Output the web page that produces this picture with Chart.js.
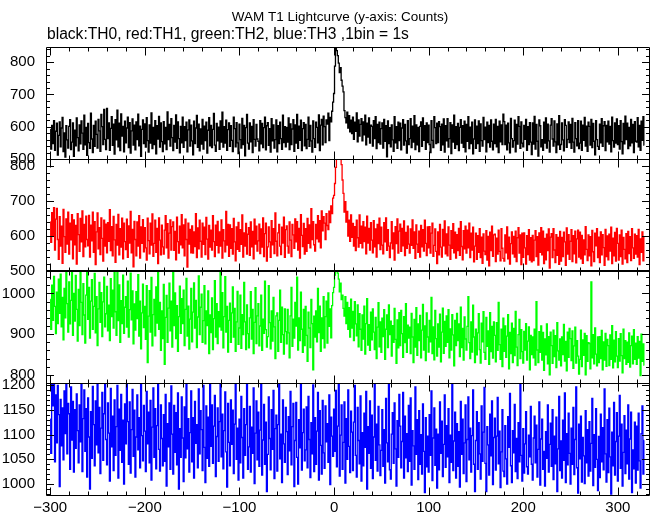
<!DOCTYPE html>
<html>
<head>
<meta charset="utf-8">
<script src="https://cdn.jsdelivr.net/npm/chart.js@4.4.1/dist/chart.umd.min.js"></script>
<style>
  html, body { margin: 0; padding: 0; background: #ffffff; }
  #wrap { width: 652px; height: 515px; }
</style>
</head>
<body>
<div id="wrap"><canvas id="lc" width="652" height="515"></canvas></div>
<script>
// WAM T1 lightcurve, 4 energy channels, 1 s bins starting at t = -300 s

const TITLE = 'WAM T1 Lightcurve (y-axis: Counts)'
const SUBTITLE = 'black:TH0, red:TH1, green:TH2, blue:TH3 ,1bin = 1s'
const T_START = -300
const BIN_SEC = 1
const X_TICKS = [-300, -200, -100, 0, 100, 200, 300]

// counts per bin (10 bins per row)
const TH0 = [
  592,531,604,548,619,527,586,611,512,573,
  615,538,596,629,523,581,506,603,559,534,
  601,622,529,552,612,508,589,541,627,566,
  525,606,547,618,580,530,636,544,598,511,
  610,551,533,642,562,520,604,539,617,576,
  534,623,587,524,638,600,545,654,561,529,
  657,563,612,527,595,631,542,608,515,622,
  559,651,538,611,526,640,571,601,522,617,
  550,596,630,535,613,518,587,624,543,605,
  528,615,560,639,541,602,508,592,621,548,
  609,537,628,557,521,606,549,643,532,598,
  545,619,516,603,562,632,537,612,554,523,
  616,547,598,529,646,560,607,540,625,566,
  526,604,552,637,533,615,563,519,601,550,
  630,536,600,557,614,522,590,621,540,605,
  556,513,617,548,596,635,536,608,525,593,
  546,623,531,602,557,614,518,589,628,541,
  604,535,592,641,543,524,610,556,599,530,
  618,552,645,537,600,549,620,527,591,612,
  539,603,558,523,630,594,538,613,550,517,
  608,560,534,626,545,604,510,597,638,549,
  531,612,553,601,520,622,561,540,607,562,
  555,525,619,547,610,535,597,630,528,603,
  613,542,594,521,625,556,606,534,560,621,
  522,603,548,614,563,530,636,551,600,538,
  598,552,627,529,609,545,593,622,524,606,
  549,638,533,602,558,620,526,594,613,541,
  607,532,561,630,539,604,556,521,618,563,
  536,614,598,550,637,526,605,623,544,633,
  600,551,621,608,642,557,629,615,648,676,
  703,788,844,836,820,797,768,783,744,726,
  708,650,628,612,645,596,634,584,620,579,
  630,561,614,586,643,553,621,571,607,625,
  556,615,575,636,544,611,568,627,549,605,
  601,540,619,563,631,532,607,551,614,546,
  594,612,534,623,555,603,507,618,548,597,
  538,606,559,524,631,550,600,533,614,557,
  611,528,596,622,543,607,556,518,619,545,
  563,625,535,602,552,634,529,606,544,598,
  523,601,615,539,627,558,603,530,612,551,
  605,545,520,619,558,535,631,597,548,611,
  551,616,600,527,608,544,624,521,603,556,
  625,537,563,613,517,606,552,636,533,600,
  545,610,526,598,622,549,603,536,617,522,
  607,555,631,532,599,548,614,516,562,621,
  533,602,548,618,524,609,557,540,629,560,
  599,522,614,551,604,537,621,555,528,608,
  548,623,538,601,520,617,553,606,545,639,
  616,545,605,528,611,550,519,626,563,537,
  557,620,522,607,546,631,601,533,615,549,
  538,604,561,623,527,600,545,613,552,514,
  612,546,632,531,607,555,509,621,603,538,
  560,527,614,549,627,534,608,556,521,605,
  625,562,540,618,553,520,609,544,634,530,
  545,612,559,525,622,604,536,561,615,551,
  607,533,626,552,521,613,563,541,619,532,
  549,617,527,605,558,629,540,602,524,614,
  601,543,623,535,610,555,513,619,560,539,
  530,608,550,625,539,603,616,526,604,553,
  617,546,601,522,630,557,537,612,549,624,
  545,603,531,619,554,516,610,547,633,560,
  611,532,598,541,623,550,607,520,616,555,
  552,628,538,604,527,617,558,631,543
]

const TH1 = [
  640,582,667,601,681,560,648,679,590,533,
  655,571,628,522,676,598,553,649,577,668,
  548,637,589,661,535,646,575,630,520,664,
  604,556,650,583,672,541,633,569,657,590,
  572,659,540,631,586,668,553,641,518,612,
  666,563,624,547,652,593,528,645,571,634,
  552,638,585,675,558,627,543,656,589,525,
  633,574,662,546,621,568,651,535,637,584,
  561,648,539,629,580,670,552,619,512,642,
  590,543,640,571,658,537,626,579,647,555,
  624,566,531,651,587,549,637,574,663,542,
  579,645,553,622,521,652,588,546,631,569,
  548,617,658,566,635,537,608,646,560,627,
  640,559,613,532,654,584,551,628,575,661,
  566,632,543,648,590,511,637,577,619,552,
  629,551,612,570,664,538,623,563,645,585,
  540,637,576,625,547,653,591,534,630,568,
  617,560,658,584,541,631,573,642,552,612,
  571,646,537,618,586,555,670,574,633,542,
  632,565,621,548,650,583,529,626,562,639,
  556,618,576,660,540,609,571,636,548,605,
  624,545,640,569,613,535,648,577,628,557,
  586,634,550,620,568,652,541,607,637,528,
  569,626,583,539,644,575,621,550,666,585,
  543,609,633,571,547,625,580,654,539,618,
  629,571,551,640,588,541,633,603,565,649,
  583,641,560,622,537,661,602,570,636,548,
  621,556,650,579,632,566,678,590,641,575,
  557,633,592,658,583,644,566,672,615,655,
  637,590,664,630,618,671,638,686,664,708,
  716,750,796,832,842,837,822,839,804,760,
  722,668,698,640,670,600,645,585,660,596,
  636,571,627,558,645,595,568,660,579,628,
  566,641,584,625,549,657,580,622,560,638,
  588,552,644,569,620,540,633,578,651,561,
  625,574,549,638,583,652,559,618,571,538,
  580,641,563,609,531,627,578,649,551,614,
  634,556,622,572,643,544,610,565,628,577,
  551,620,573,646,565,612,536,632,577,553,
  614,540,630,569,618,557,645,579,544,626,
  566,627,551,608,637,542,573,620,556,521,
  612,546,633,568,540,619,572,643,549,606,
  543,626,574,533,615,565,635,552,611,537,
  604,558,622,545,641,570,532,615,563,628,
  551,617,566,637,538,608,560,625,526,571,
  608,533,601,553,621,538,597,522,606,557,
  547,615,531,599,515,611,558,628,542,603,
  605,527,594,548,617,556,529,621,565,536,
  528,603,552,626,535,597,520,578,612,549,
  599,540,614,527,595,624,551,603,518,608,
  539,609,566,520,601,547,618,531,595,526,
  602,530,588,615,541,598,517,609,553,624,
  546,614,521,593,532,605,558,620,508,597,
  607,538,621,560,524,604,545,596,519,613,
  528,596,541,611,583,516,623,548,604,533,
  585,618,527,601,549,614,523,592,617,540,
  611,535,602,522,589,546,627,562,530,603,
  543,598,515,616,555,527,608,572,621,538,
  597,524,612,546,604,567,516,619,541,600,
  532,605,557,625,521,594,543,610,528,622,
  579,531,603,541,617,520,596,562,535,607,
  524,613,550,598,530,621,566,536,605,548,
  601,540,619,518,592,553,612,529,598
]

const TH2 = [
  985,912,1020,934,1042,968,901,1003,926,1035,
  951,1047,918,990,886,1012,940,1058,975,905,
  1028,925,983,1060,897,1000,932,1044,961,883,
  1010,921,1052,978,899,1024,947,878,996,1056,
  936,1015,890,981,1034,912,968,1049,903,992,
  872,962,1027,929,1002,894,979,1040,918,950,
  1017,908,971,884,1036,943,1008,915,1057,955,
  897,1060,933,1021,880,982,926,1045,902,966,
  992,917,1030,893,960,1050,935,1006,876,974,
  910,1004,938,1046,895,981,864,952,1023,916,
  968,887,1019,830,944,1007,905,1039,871,948,
  985,896,1016,927,1053,912,978,860,957,889,
  1022,826,941,995,880,964,1025,908,981,868,
  1055,921,1001,889,970,858,943,1018,902,987,
  926,1008,872,961,1037,895,969,863,937,1012,
  881,954,1026,915,983,867,942,1043,899,966,
  998,880,933,1019,876,957,921,1006,852,947,
  904,989,862,938,1031,893,975,877,955,918,
  1057,910,1002,866,943,1041,905,968,856,934,
  976,880,952,1016,893,963,858,930,1005,875,
  915,996,865,948,899,1027,930,862,972,901,
  866,940,1004,888,961,852,929,1014,877,945,
  975,871,920,996,860,937,902,1030,911,868,
  894,1019,928,864,957,883,990,918,840,945,
  952,858,934,1008,880,966,899,851,962,906,
  876,961,903,842,945,1015,870,937,890,978,
  920,1040,861,940,884,1003,912,855,961,872,
  968,897,833,954,915,867,985,926,812,944,
  893,957,881,1012,904,969,858,940,889,992,
  866,943,981,878,1001,919,962,891,970,1002,
  1015,1045,1060,1060,1050,1035,1004,1025,985,996,
  963,944,992,926,978,912,965,893,986,915,
  956,884,980,925,896,972,869,950,912,860,
  947,888,969,851,926,987,873,923,860,954,
  886,962,905,862,941,840,917,977,869,930,
  855,939,894,960,838,912,947,867,972,899,
  932,846,921,880,963,887,828,935,866,953,
  872,958,901,843,943,879,975,855,922,890,
  917,852,951,893,830,936,868,965,848,925,
  884,946,842,910,973,861,920,835,952,893,
  856,934,881,990,852,918,837,958,889,846,
  925,868,949,832,905,964,853,931,870,945,
  880,960,842,913,861,948,898,822,934,872,
  951,884,925,845,966,867,914,836,942,888,
  861,919,992,879,840,930,856,971,893,830,
  912,849,903,950,862,829,927,881,955,855,
  838,941,870,908,826,953,857,919,841,930,
  897,832,928,860,978,874,838,912,820,939,
  858,920,843,895,948,815,904,852,927,830,
  914,847,956,868,823,899,936,840,911,857,
  829,907,861,926,836,883,918,812,897,850,
  893,842,912,824,980,861,830,906,855,920,
  836,904,811,888,849,925,827,894,800,905,
  872,828,910,845,896,818,928,859,836,888,
  822,893,850,924,834,882,810,905,843,914,
  889,835,908,816,871,917,829,884,846,802,
  838,910,820,886,848,902,800,896,833,879,
  877,815,1028,842,899,827,915,851,822,893,
  830,894,840,909,812,881,836,902,821,887,
  872,823,898,838,921,817,885,832,906,846,
  818,889,834,901,847,805,912,840,884,826,
  880,831,903,819,872,895,827,911,838,878,
  826,894,841,882,798,900,833,876,824
]

const TH3 = [
  1131,1062,1210,1158,1215,1045,1180,1083,1199,1140,
  995,1171,1077,1154,1049,1188,1102,1212,1061,1163,
  1142,1030,1196,1089,1167,1024,1150,1072,1182,1108,
  1043,1160,1085,1201,1025,1132,1190,1066,1152,1014,
  1174,1095,990,1146,1052,1197,1120,1037,1168,1079,
  1203,1063,1155,1021,1113,1185,1048,1142,1208,1090,
  1039,1164,1103,1006,1193,1075,1137,1027,1170,1058,
  1116,1199,1012,1151,1068,1181,1044,1129,1000,1162,
  1081,1204,1126,1040,1166,1022,1110,1191,1056,1149,
  1014,1095,1180,1069,1134,1033,1206,1098,1047,1159,
  1107,1025,1187,1081,1145,1043,1169,1008,1115,1194,
  1054,1152,1031,1118,1210,1070,1026,1160,1092,1037,
  1140,1046,1181,996,1122,1075,1164,1030,1198,1101,
  1020,1159,1064,1144,1039,1184,990,1112,1054,1176,
  1093,1005,1156,1053,1207,1071,1132,1024,1104,1188,
  1045,1134,1012,1167,1082,1120,1033,1192,1061,1148,
  1110,1027,1199,1074,1003,1158,1052,1135,1036,1209,
  1076,1160,1042,1117,1179,1015,1096,1154,1046,1126,
  1206,1055,1141,1031,1108,1186,1065,994,1163,1084,
  1037,1170,1080,1149,1021,1121,1203,1050,1113,1008,
  1131,1043,1177,1094,1012,1152,1058,1120,1210,1030,
  1075,1157,1024,1115,1062,1194,1001,1103,1168,1049,
  1145,1036,1109,1202,1018,1089,1161,1040,1125,985,
  1060,1176,1092,1029,1150,1070,1189,1011,1112,1139,
  1026,1120,1209,1051,1101,1003,1170,1081,1044,1155,
  1106,1019,1136,1067,1187,1039,1116,1163,995,1088,
  1165,1054,1000,1130,1073,1210,1028,1104,1151,1047,
  1069,1156,1033,1177,1090,1013,1124,1061,1200,1025,
  1134,1040,1107,1185,1008,1148,1078,1020,1169,1063,
  1032,1158,1085,1122,1044,1180,999,1135,1097,1056,
  1151,1066,1189,1035,1117,1206,1016,1099,1160,1030,
  1084,1166,1002,1132,1050,1190,1076,1023,1147,1105,
  1027,1125,1199,1058,1014,1155,1088,1041,1178,1006,
  1104,1037,1143,1074,1187,990,1116,1062,1168,1032,
  1139,1011,1095,1205,1048,1121,1026,1157,1079,1017,
  1068,1150,1036,1110,1002,1173,1083,1045,1210,1029,
  1010,1101,1144,1042,1164,1071,996,1128,1054,1181,
  1117,1033,1086,1185,1012,1137,1053,1102,1025,1159,
  1046,1174,998,1108,1077,1030,1196,1060,1130,1009,
  1148,1040,1100,1020,1162,1066,983,1134,1035,1097,
  1024,1140,1058,1188,1007,1093,1154,1038,1111,992,
  1101,1029,1166,1062,1127,1015,1080,1180,1034,1118,
  1055,1152,1003,1099,1044,1204,1027,1087,1145,1012,
  1122,1036,1106,994,1167,1060,1131,1021,1083,1160,
  1005,1090,1176,1049,1113,1024,1098,1190,1040,985,
  1088,1146,1030,1124,1061,1010,1158,1046,1105,1195,
  1042,985,1116,1079,1018,1141,1057,1168,999,1094,
  1133,1028,1097,1175,1041,1107,993,1065,1150,1026,
  1015,1118,1051,1000,1136,1074,1183,1037,1003,1108,
  1063,1161,1025,1092,1011,1124,1045,1201,1058,1006,
  1112,1022,1081,1146,1035,1020,1099,1055,1157,1040,
  1008,1093,1137,1043,1119,1014,1070,1166,998,1091,
  1131,1030,1066,996,1106,1052,1160,1024,1080,1123,
  1036,1150,1009,1097,1041,1135,985,1071,1177,1027,
  1087,1012,1129,1048,1184,1003,1102,1039,1143,1062,
  1000,1113,1040,1155,1019,1090,1196,1033,982,1121,
  1051,1137,1004,1094,1057,1001,1148,1043,1110,1016,
  1126,1026,1082,1173,997,1100,1034,1152,1050,987,
  1096,1013,1141,1045,1114,1029,1192,1061,1004,1130,
  1023,1153,1055,980,1105,1037,1165,1018,1086,1144,
  1006,1097,1179,1032,1121,996,1064,1138,1021,1109,
  1041,1160,1010,1091,1145,983,1069,1031,1125,1002,
  1117,1028,1143,1047,992,1102,1158,1020,1088
]

// one panel per channel, top to bottom
const PANELS = [
  { id: 'y0', label: 'TH0', values: TH0, color: '#000000', min: 500, max: 847,  step: 100, minor: 20 },
  { id: 'y1', label: 'TH1', values: TH1, color: '#ff0000', min: 500, max: 820,  step: 100, minor: 20 },
  { id: 'y2', label: 'TH2', values: TH2, color: '#00ff00', min: 780, max: 1055, step: 100, minor: 20 },
  { id: 'y3', label: 'TH3', values: TH3, color: '#0000ff', min: 978, max: 1204, step: 50,  minor: 10 },
]

const FAMILY = '"Liberation Sans", Arial, Helvetica, sans-serif'
const FONT = { family: FAMILY, size: 15 }

const fmt = v => (v < 0 ? '\u2212' + Math.abs(v) : String(v))

// ── Frame + inward ticks (IDL style) ─────────────────────────────────────────

const framePlugin = {
  id: 'frame',
  afterDatasetsDraw(chart) {
    const { ctx, chartArea: a, scales } = chart
    const xs = scales.x
    ctx.save()
    ctx.strokeStyle = '#000'
    ctx.lineWidth = 1
    ctx.beginPath()
    for (const p of PANELS) {
      const s = scales[p.id]
      const top = Math.round(s.top) + 0.5
      const bot = Math.round(s.bottom) + 0.5
      ctx.rect(Math.round(a.left) + 0.5, top, Math.round(a.right - a.left) - 1, bot - top)
      // x ticks, top and bottom of each panel
      for (let t = -300; t <= xs.max; t += 20) {
        const x = Math.round(xs.getPixelForValue(t)) + 0.5
        const len = t % 100 === 0 ? 8 : 4
        ctx.moveTo(x, top); ctx.lineTo(x, top + len)
        ctx.moveTo(x, bot); ctx.lineTo(x, bot - len)
      }
      // y ticks, left and right
      const first = Math.ceil(p.min / p.minor) * p.minor
      for (let v = first; v <= p.max; v += p.minor) {
        const y = Math.round(s.getPixelForValue(v)) + 0.5
        const len = v % p.step === 0 ? 8 : 4
        ctx.moveTo(a.left, y); ctx.lineTo(a.left + len, y)
        ctx.moveTo(a.right, y); ctx.lineTo(a.right - len, y)
      }
    }
    ctx.stroke()
    // heavier rule between the TH1 and TH2 panels
    const yb = Math.round(scales.y1.bottom)
    ctx.fillStyle = '#000'
    ctx.fillRect(a.left, yb - 1, a.right - a.left, 2)
    ctx.restore()
  },
  afterDraw(chart) {
    const { ctx } = chart
    ctx.save()
    ctx.fillStyle = '#000'
    ctx.textBaseline = 'middle'
    ctx.font = `13.5px ${FAMILY}`
    ctx.textAlign = 'center'
    ctx.fillText(TITLE, 340, 17)
    ctx.font = `15.6px ${FAMILY}`
    ctx.textAlign = 'left'
    ctx.fillText(SUBTITLE, 47, 35)
    ctx.restore()
  },
}

// ── Chart ────────────────────────────────────────────────────────────────────

const scales = {
  x: {
    type: 'linear',
    position: 'bottom',
    min: -304.5,
    max: 334,
    grid: { display: false, drawTicks: false },
    border: { display: false },
    afterBuildTicks: s => { s.ticks = X_TICKS.map(v => ({ value: v })) },
    afterFit: s => { s.height = 20 },
    ticks: { color: '#000', font: FONT, padding: 4, maxRotation: 0, autoSkip: false, callback: fmt },
  },
}
// stacked axes are laid out bottom-up, so register the bottom panel first
for (const p of [...PANELS].reverse()) {
  scales[p.id] = {
    type: 'linear',
    position: 'left',
    stack: 'panels',
    stackWeight: 1,
    min: p.min,
    max: p.max,
    grid: { display: false, drawTicks: false },
    border: { display: false },
    afterFit: s => { s.width = 46 },
    ticks: { color: '#000', font: FONT, padding: 11, stepSize: p.step, includeBounds: false, autoSkip: false, callback: fmt },
  }
}

new Chart(document.getElementById('lc'), {
  type: 'line',
  data: {
    datasets: PANELS.map(p => ({
      label: p.label,
      data: p.values.map((v, i) => ({ x: T_START + i * BIN_SEC, y: v })),
      yAxisID: p.id,
      borderColor: p.color,
      borderWidth: 1.3,
      pointRadius: 0,
      stepped: 'middle',
      tension: 0,
    })),
  },
  options: {
    responsive: false,
    animation: false,
    events: [],
    layout: { padding: { top: 47, right: 2, bottom: 0, left: 0 } },
    plugins: { legend: { display: false }, tooltip: { enabled: false }, title: { display: false } },
    scales,
  },
  plugins: [framePlugin],
})
</script>
</body>
</html>
